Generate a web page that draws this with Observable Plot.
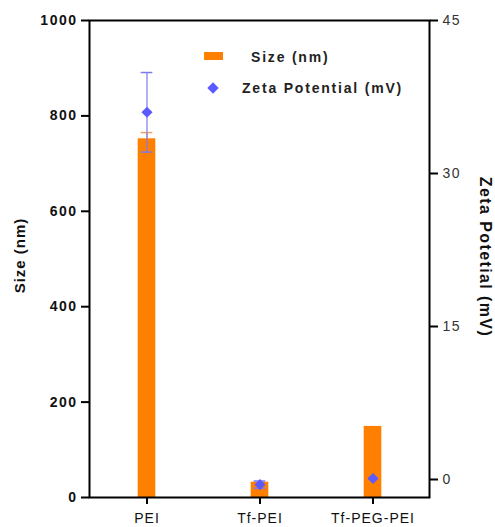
<!DOCTYPE html>
<html>
<head>
<meta charset="utf-8">
<script src="https://cdn.jsdelivr.net/npm/d3@7"></script>
<script src="https://cdn.jsdelivr.net/npm/@observablehq/plot@0.6"></script>
<style>
  html, body { margin: 0; padding: 0; background: #fff; }
  #wrap { position: relative; width: 495px; height: 527px; font-family: "Liberation Sans", Arial, sans-serif; }
  #wrap svg { position: absolute; left: 0; top: 0; }
  .ttl { position: absolute; white-space: nowrap; font-weight: bold; color: #111; transform-origin: center center; }
  .leg { position: absolute; white-space: nowrap; font-weight: bold; color: #222; font-size: 14px; letter-spacing: 1.8px; }
</style>
</head>
<body>
<div id="wrap"></div>
<script>
// ---- data ----
const categories = ["PEI", "Tf-PEI", "Tf-PEG-PEI"];
const sizeValues = [752, 32, 149];        // nm
const sizeErrors = [13, 0, 0];
const zetaValues = [36, -0.5, 0.1];       // mV
const zetaErrors = [3.9, 0.35, 0];
const sizeTicks = [0, 200, 400, 600, 800, 1000];
const zetaTicks = [0, 15, 30, 45];
const sizeDomain = [0, 1000];
const zetaDomain = [-1.765, 45];

// map zeta (right axis) onto size (left axis) scale
const zToS = d3.scaleLinear().domain(zetaDomain).range(sizeDomain);

const rows = categories.map((c, i) => ({
  cat: c,
  size: sizeValues[i],
  sizeLo: sizeValues[i],
  sizeHi: sizeValues[i] + sizeErrors[i],
  sizeErr: sizeErrors[i],
  zeta: zToS(zetaValues[i]),
  zetaLo: zToS(zetaValues[i] - zetaErrors[i]),
  zetaHi: zToS(zetaValues[i] + zetaErrors[i]),
  zetaErr: zetaErrors[i]
}));
const sizeErrRows = rows.filter(d => d.sizeErr > 0);
const zetaErrRows = rows.filter(d => d.zetaErr > 0);

const orange = "#ff8000";
const blue = "#5a5aff";
const band = (429 - 89) / 3;
const barInset = (band - 18) / 2;
const capInset = (band - 12) / 2;

const chart = Plot.plot({
  width: 495,
  height: 527,
  marginLeft: 89,
  marginRight: 66,
  marginTop: 20,
  marginBottom: 30,
  style: { fontFamily: "'Liberation Sans', Arial, sans-serif", background: "#fff", overflow: "visible" },
  x: { type: "band", domain: categories, padding: 0 },
  y: { domain: sizeDomain },
  marks: [
    Plot.barY(rows, { x: "cat", y: "size", fill: orange, insetLeft: barInset, insetRight: barInset }),
    // size error bars
    Plot.ruleX(sizeErrRows, { x: "cat", y1: "sizeLo", y2: "sizeHi", stroke: "#f0a060", strokeWidth: 1.2 }),
    Plot.tickY(sizeErrRows, { x: "cat", y: "sizeHi", stroke: "#f0a060", strokeWidth: 1.5, insetLeft: capInset, insetRight: capInset }),
    // zeta error bars
    Plot.ruleX(zetaErrRows, { x: "cat", y1: "zetaLo", y2: "zetaHi", stroke: "#7b7bf0", strokeWidth: 1.2 }),
    Plot.tickY(zetaErrRows, { x: "cat", y: "zetaHi", stroke: "#7b7bf0", strokeWidth: 1.5, insetLeft: capInset, insetRight: capInset }),
    Plot.tickY(zetaErrRows, { x: "cat", y: "zetaLo", stroke: "#7b7bf0", strokeWidth: 1.5, insetLeft: capInset, insetRight: capInset }),
    Plot.dot(rows, { x: "cat", y: "zeta", symbol: "diamond2", r: 5, fill: blue, stroke: "none" }),
    // frame
    Plot.frame({ stroke: "#000", strokeWidth: 2 }),
    // axes
    Plot.axisY({ anchor: "left", ticks: sizeTicks, tickSize: 8, tickPadding: 4, strokeWidth: 2, label: null,
      fontSize: 14, fontWeight: "bold", fill: "#111", tickFormat: d => String(d) }),
    Plot.axisY({ anchor: "right", ticks: zetaTicks.map(zToS), tickSize: 8, tickPadding: 5, strokeWidth: 2, label: null,
      fontSize: 14, fill: "#333", tickFormat: d => String(Math.round(zToS.invert(d))) }),
    Plot.axisX({ anchor: "bottom", tickSize: 7, tickPadding: 9, strokeWidth: 2, label: null,
      fontSize: 14, fill: "#111" })
  ]
});

const wrap = document.getElementById("wrap");
wrap.appendChild(chart);

// letter spacing tweaks
chart.querySelectorAll('g[aria-label="y-axis tick label"] text').forEach(t => t.setAttribute("letter-spacing", "1.5"));
chart.querySelectorAll('g[aria-label="x-axis tick label"] text').forEach(t => t.setAttribute("letter-spacing", "1"));

// axis titles
const leftTitle = document.createElement("div");
leftTitle.className = "ttl";
leftTitle.textContent = "Size (nm)";
leftTitle.style.fontSize = "15px";
leftTitle.style.letterSpacing = "1px";
wrap.appendChild(leftTitle);
const lw = leftTitle.offsetWidth, lh = leftTitle.offsetHeight;
leftTitle.style.left = (20 - lw / 2) + "px";
leftTitle.style.top = (255 - lh / 2) + "px";
leftTitle.style.transform = "rotate(-90deg)";

const rightTitle = document.createElement("div");
rightTitle.className = "ttl";
rightTitle.textContent = "Zeta Potetial (mV)";
rightTitle.style.fontSize = "16px";
rightTitle.style.letterSpacing = "1.4px";
wrap.appendChild(rightTitle);
const rw = rightTitle.offsetWidth, rh = rightTitle.offsetHeight;
rightTitle.style.left = (485 - rw / 2) + "px";
rightTitle.style.top = (257 - rh / 2) + "px";
rightTitle.style.transform = "rotate(90deg)";

// legend
const sw1 = document.createElement("div");
sw1.style.cssText = `position:absolute;left:204px;top:52px;width:19px;height:8px;background:${orange};`;
wrap.appendChild(sw1);
const sw2 = document.createElement("div");
sw2.style.cssText = `position:absolute;left:208.5px;top:83.5px;width:8px;height:8px;background:${blue};transform:rotate(45deg);`;
wrap.appendChild(sw2);
const l1 = document.createElement("div");
l1.className = "leg"; l1.textContent = "Size (nm)";
wrap.appendChild(l1);
l1.style.left = "251px"; l1.style.top = (57 - l1.offsetHeight / 2) + "px";
const l2 = document.createElement("div");
l2.className = "leg"; l2.textContent = "Zeta Potential (mV)";
wrap.appendChild(l2);
l2.style.left = "242px"; l2.style.top = (87.5 - l2.offsetHeight / 2) + "px";
</script>
</body>
</html>
